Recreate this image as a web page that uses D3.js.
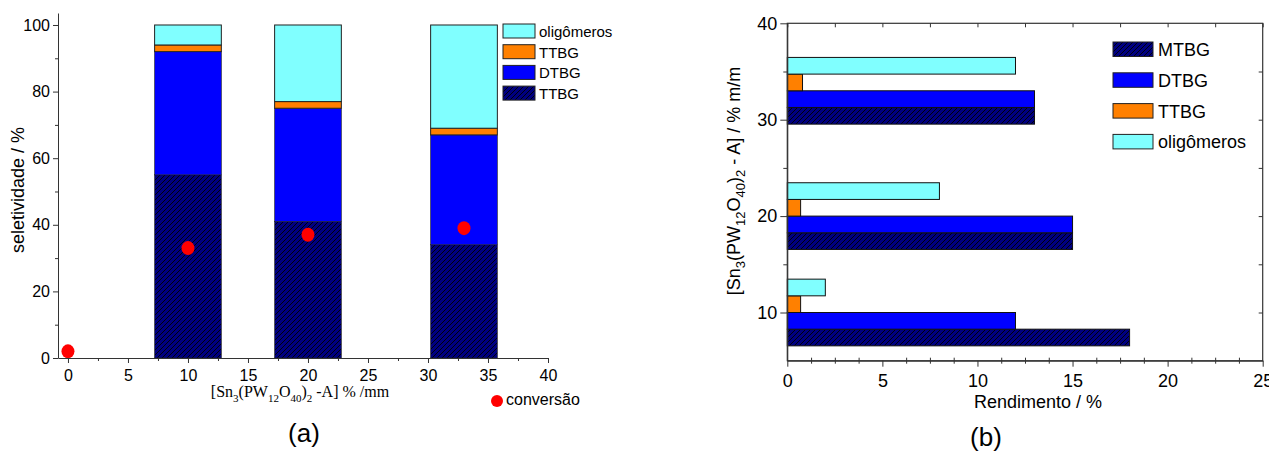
<!DOCTYPE html>
<html>
<head>
<meta charset="utf-8">
<script src="https://cdn.jsdelivr.net/npm/d3@7"></script>
<style>
  body { margin: 0; background: #fff; }
  svg text { font-family: Arial, "Liberation Sans", sans-serif; fill: #000; }
  .serif { font-family: "Times New Roman", "Liberation Serif", serif; }
</style>
</head>
<body>
<div id="chart"></div>
<script>
// (a) selectivity, stacked
var concentracao = [10, 20, 33];
var selMTBG = [55, 41, 34];
var selDTBG = [37, 34, 33];
var selTTBG = [2, 2, 2];
var selOlig = [6, 23, 31];
var convX = [0, 10, 20, 33];
var conversao = [2, 33, 37, 39];

// (b) yield, grouped horizontal
var rendMTBG = [18, 15, 13];
var rendDTBG = [12, 15, 13];
var rendTTBG = [0.7, 0.7, 0.8];
var rendOlig = [2, 8, 12];

var xTicksA = [0, 5, 10, 15, 20, 25, 30, 35, 40];
var yTicksA = [0, 20, 40, 60, 80, 100];
var xTicksB = [0, 5, 10, 15, 20, 25];
var yTicksB = [10, 20, 30, 40];

var colors = { MTBG: "#000080", DTBG: "#0000ff", TTBG: "#ff8000", olig: "#80ffff" };

function init() {
    var w = 1269, h = 453;
    var svg = d3.select("#chart").append("svg")
        .attr("width", w).attr("height", h);

    // hatch pattern for MTBG
    var pat = svg.append("defs").append("pattern")
        .attr("id", "hatch")
        .attr("patternUnits", "userSpaceOnUse")
        .attr("width", 5).attr("height", 5);
    pat.append("rect").attr("width", 5).attr("height", 5).attr("fill", colors.MTBG);
    pat.append("path").attr("d", "M-1,1 L1,-1 M0,5 L5,0 M4,6 L6,4")
        .attr("stroke", "#000").attr("stroke-width", 0.9);

    chartA(svg);
    chartB(svg);
}

function subLabel(t, parts, subSize, drop) {
    // parts: [text, sub, text, sub, ...]
    parts.forEach(function(p, i) {
        var ts = t.append("tspan").text(p);
        if (i > 0) ts.attr("dy", i % 2 === 1 ? drop : -drop);
        if (i % 2 === 1) ts.style("font-size", subSize);
    });
}

function chartA(svg) {
    var x = d3.scaleLinear().domain([-0.83, 40]).range([58, 548]);
    var y = d3.scaleLinear().domain([0, 103.6]).range([358, 13]);
    var barW = 5.56;

    var rows = concentracao.map(function(c, i) {
        return { c: c, MTBG: selMTBG[i], DTBG: selDTBG[i], TTBG: selTTBG[i], olig: selOlig[i] };
    });
    var keys = ["MTBG", "DTBG", "TTBG", "olig"];
    var stack = d3.stack().keys(keys)(rows);

    var g = svg.append("g");
    stack.forEach(function(layer) {
        g.selectAll(null)
            .data(layer)
            .enter()
            .append("rect")
            .attr("x", function(d) { return x(d.data.c - barW / 2); })
            .attr("width", x(barW) - x(0))
            .attr("y", function(d) { return y(d[1]); })
            .attr("height", function(d) { return y(d[0]) - y(d[1]); })
            .attr("fill", layer.key === "MTBG" ? "url(#hatch)" : colors[layer.key])
            .attr("stroke", "#222")
            .attr("stroke-width", layer.key === "TTBG" || layer.key === "olig" ? 1 : 0.6);
    });

    // conversion points
    g.selectAll("ellipse")
        .data(convX)
        .enter()
        .append("ellipse")
        .attr("cx", function(d) { return x(d); })
        .attr("cy", function(d, i) { return y(conversao[i]); })
        .attr("rx", 6.5).attr("ry", 7)
        .attr("fill", "#ff0000");

    // axes
    var xAxis = svg.append("g")
        .attr("transform", "translate(0,358)")
        .call(d3.axisBottom(x).tickValues(xTicksA).tickSize(5).tickSizeOuter(0));
    xAxis.selectAll("text").style("font-size", "16px").attr("dy", "0.95em");
    svg.append("g")
        .attr("transform", "translate(0,358)")
        .call(d3.axisBottom(x).tickValues(d3.range(2.5, 40, 5)).tickSize(3).tickFormat(""))
        .select(".domain").remove();

    var yAxis = svg.append("g")
        .attr("transform", "translate(58,0)")
        .call(d3.axisLeft(y).tickValues(yTicksA).tickSize(5).tickSizeOuter(0));
    yAxis.selectAll("text").style("font-size", "16px");
    svg.append("g")
        .attr("transform", "translate(58,0)")
        .call(d3.axisLeft(y).tickValues(d3.range(10, 101, 20)).tickSize(3).tickFormat(""))
        .select(".domain").remove();

    svg.selectAll(".domain, .tick line").attr("stroke", "#333");

    // axis titles
    svg.append("text")
        .attr("transform", "translate(24,190) rotate(-90)")
        .attr("text-anchor", "middle")
        .style("font-size", "18px")
        .text("seletividade / %");

    var xt = svg.append("text")
        .attr("class", "serif")
        .attr("x", 300).attr("y", 397)
        .attr("text-anchor", "middle")
        .style("font-size", "16px");
    subLabel(xt, ["[Sn", "3", "(PW", "12", "O", "40", ")", "2", " -A] % /mm"], "11px", 5);

    svg.append("text")
        .attr("x", 304).attr("y", 442)
        .attr("text-anchor", "middle")
        .style("font-size", "26px")
        .text("(a)");

    // legend
    var leg = [
        { label: "oligômeros", fill: colors.olig },
        { label: "TTBG", fill: colors.TTBG },
        { label: "DTBG", fill: colors.DTBG },
        { label: "TTBG", fill: "url(#hatch)" }
    ];
    var lg = svg.append("g");
    leg.forEach(function(d, i) {
        lg.append("rect")
            .attr("x", 503).attr("y", 24 + i * 20.7)
            .attr("width", 32).attr("height", 14)
            .attr("fill", d.fill).attr("stroke", "#222").attr("stroke-width", 1);
        lg.append("text")
            .attr("x", 539).attr("y", 37 + i * 20.7)
            .style("font-size", "15px")
            .text(d.label);
    });

    svg.append("circle")
        .attr("cx", 497).attr("cy", 401).attr("r", 6)
        .attr("fill", "#ff0000");
    svg.append("text")
        .attr("x", 506).attr("y", 405)
        .style("font-size", "16px")
        .text("conversão");
}

function chartB(svg) {
    var left = 787.3, right = 1262.7, top = 23.3, bottom = 360.7;
    var x = d3.scaleLinear().domain([0, 25]).range([left, right]);
    var y = d3.scaleLinear().domain([5, 40]).range([bottom, top]);
    var bh = 1.73;

    var series = [
        { key: "MTBG", vals: rendMTBG, fill: "url(#hatch)" },
        { key: "DTBG", vals: rendDTBG, fill: colors.DTBG },
        { key: "TTBG", vals: rendTTBG, fill: colors.TTBG },
        { key: "olig", vals: rendOlig, fill: colors.olig }
    ];

    var g = svg.append("g");
    series.forEach(function(s, k) {
        g.selectAll(null)
            .data(s.vals)
            .enter()
            .append("rect")
            .attr("x", x(0))
            .attr("width", function(d) { return x(d) - x(0); })
            .attr("y", function(d, i) { return y(concentracao[i] - 2 * bh + (k + 1) * bh); })
            .attr("height", y(0) - y(bh))
            .attr("fill", s.fill)
            .attr("stroke", "#111")
            .attr("stroke-width", 1);
    });

    // frame
    svg.append("rect")
        .attr("x", left).attr("y", top)
        .attr("width", right - left).attr("height", bottom - top)
        .attr("fill", "none").attr("stroke", "#333").attr("stroke-width", 1.2);

    var xAxis = svg.append("g")
        .attr("transform", "translate(0," + bottom + ")")
        .call(d3.axisBottom(x).tickValues(xTicksB).tickSize(6).tickSizeOuter(0));
    xAxis.selectAll("text").style("font-size", "18px").attr("dy", "0.95em");
    svg.append("g")
        .attr("transform", "translate(0," + (bottom - 3) + ")")
        .call(d3.axisBottom(x).tickValues(d3.range(2.5, 25, 5).concat(d3.range(1.25, 25, 2.5))).tickSize(6).tickFormat(""))
        .select(".domain").remove();

    var yAxis = svg.append("g")
        .attr("transform", "translate(" + left + ",0)")
        .call(d3.axisLeft(y).tickValues(yTicksB).tickSize(7).tickSizeOuter(0));
    yAxis.selectAll("text").style("font-size", "18px");
    svg.append("g")
        .attr("transform", "translate(" + left + ",0)")
        .call(d3.axisLeft(y).tickValues([15, 25, 35]).tickSize(4).tickFormat(""))
        .select(".domain").remove();

    // inner ticks on top and right
    svg.append("g")
        .attr("transform", "translate(0," + top + ")")
        .call(d3.axisBottom(x).tickValues(d3.range(0, 25.1, 2.5)).tickSize(4).tickFormat(""))
        .select(".domain").remove();
    svg.append("g")
        .attr("transform", "translate(" + right + ",0)")
        .call(d3.axisLeft(y).tickValues(d3.range(10, 40, 5)).tickSize(4).tickFormat(""))
        .select(".domain").remove();

    svg.selectAll(".domain, .tick line").attr("stroke", "#333");

    // titles
    var yt = svg.append("text")
        .attr("transform", "translate(740,181) rotate(-90)")
        .attr("text-anchor", "middle")
        .style("font-size", "18px");
    subLabel(yt, ["[Sn", "3", "(PW", "12", "O", "40", ")", "2", " - A] / % m/m"], "13px", 5);

    svg.append("text")
        .attr("x", 1038).attr("y", 408)
        .attr("text-anchor", "middle")
        .style("font-size", "18px")
        .text("Rendimento / %");

    svg.append("text")
        .attr("x", 986).attr("y", 446)
        .attr("text-anchor", "middle")
        .style("font-size", "26px")
        .text("(b)");

    // legend
    var leg = [
        { label: "MTBG", fill: "url(#hatch)" },
        { label: "DTBG", fill: colors.DTBG },
        { label: "TTBG", fill: colors.TTBG },
        { label: "oligômeros", fill: colors.olig }
    ];
    leg.forEach(function(d, i) {
        svg.append("rect")
            .attr("x", 1113).attr("y", 42 + i * 30.8)
            .attr("width", 40).attr("height", 14.5)
            .attr("fill", d.fill).attr("stroke", "#222").attr("stroke-width", 1);
        svg.append("text")
            .attr("x", 1158).attr("y", 56 + i * 30.8)
            .style("font-size", "18px")
            .text(d.label);
    });
}

window.onload = init;
</script>
</body>
</html>
